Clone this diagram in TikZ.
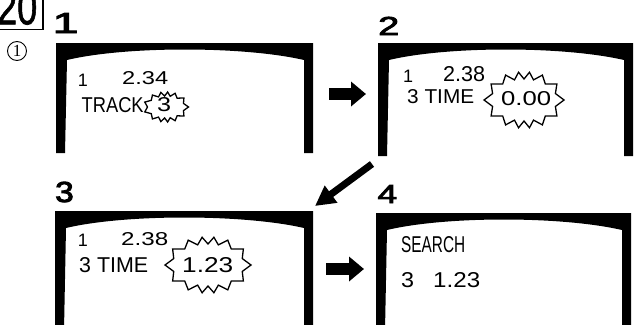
\documentclass[tikz,border=0pt]{standalone}
\usepackage{fontspec}
\setmainfont{Liberation Sans}
\newfontfamily\serifnum{Liberation Serif}
\newfontfamily\heavy[FakeBold=3]{Liberation Sans}
\newfontfamily\medheavy[FakeBold=1.5]{Liberation Sans}
\usetikzlibrary{arrows.meta}

% text squeezed to an exact ink size: width, height, text
\newcommand\fitbox[3]{\resizebox{#1pt}{#2pt}{#3}}

% black CRT bezel, open at the bottom: left, right, top, bottom
\newcommand\crtframe[4]{%
  \fill[framefill] (#1,#4) -- (#1,#3) -- (#2,#3) -- (#2,#4) -- ({#2-9},#4)
    -- ({#2-9},{#3+17})
    .. controls ({#2-70},{#3+3}) and ({#1+70},{#3+3}) .. ({#1+11},{#3+17})
    -- ({#1+9},#4) -- cycle;}

% jagged flash outline: cx, cy, rx, ry, vertices (even), depth
\newcommand\flash[6]{%
  \draw[burstline] plot[samples at={0,...,#5}]
    ({#1+(#3-#6*mod(\x,2))*cos(\x/#5*360+11.5*sin(\x/#5*720))},
     {#2+(#4-#6*mod(\x,2))*sin(\x/#5*360+11.5*sin(\x/#5*720))}) -- cycle;}

\begin{document}
\begin{tikzpicture}[x=1pt,y=-1pt,
  framefill/.style={fill=black},
  burstline/.style={line width=1.3pt,line join=miter,miter limit=20},
  lcd/.style={inner sep=0pt,anchor=south west},
  onechar/.style={inner sep=0pt,anchor=base,font=\fontsize{18}{18}\selectfont},
  steplabel/.style={inner sep=0pt,anchor=base west},
  blockarrow/.style={line width=12pt,-{Triangle[length=15pt,width=24pt]}},
  diagarrow/.style={line width=7pt,-{Triangle[length=20pt,width=20pt]}}]
\useasboundingbox (0,0) rectangle (636,324);
\clip (0,0) rectangle (636,324);
\fill[white] (0,0) rectangle (636,324);

% figure number box in the corner
\draw[line width=1.5pt] (-2,29.5) -- (43,29.5) -- (43,-2);
\node[lcd] (fignum) at (-3,25) {\fitbox{40}{34}{\medheavy 20}};
\node[circle,draw,line width=0.9pt,minimum size=19pt,inner sep=0pt,
      font=\serifnum\fontsize{17}{17}\selectfont] (circ) at (17,51) {1};

% step labels
\node[steplabel,font=\heavy\fontsize{29}{29}\selectfont] (l1) at (52.5,33)
  {\scalebox{1.6}[1]{1}};
\node[steplabel,font=\heavy\fontsize{26}{26}\selectfont] (l2) at (378,35)
  {\scalebox{1.45}[1]{2}};
\node[steplabel,font=\heavy\fontsize{29}{29}\selectfont] (l3) at (55,202)
  {\scalebox{1.15}[1]{3}};
\node[steplabel,font=\heavy\fontsize{26}{26}\selectfont] (l4) at (377.5,203)
  {\scalebox{1.35}[1]{4}};

% bezels
\crtframe{56}{313}{43}{153}
\crtframe{378}{633}{43}{156}
\crtframe{55}{313}{211}{330}
\crtframe{376}{631}{213}{330}

% screen 1
\node[onechar] (s1a) at (83,86) {1};
\node[lcd] (s1b) at (122,85) {\fitbox{46}{13}{2.34}};
\node[lcd] (s1c) at (81.5,113) {\fitbox{62}{15}{TRACK}};
\flash{166}{107}{22.5}{15}{26}{4}
\node[lcd] (s1d) at (157,112) {\fitbox{14}{14}{3}};

% screen 2
\node[onechar] (s2a) at (408,82) {1};
\node[lcd] (s2b) at (443,82) {\fitbox{42}{15}{2.38}};
\node[lcd] (s2c) at (407,104) {\fitbox{67}{14}{3 TIME}};
\flash{524}{100}{40}{28}{28}{7}
\node[lcd] (s2d) at (501,106) {\fitbox{50}{14}{0.00}};

% screen 3
\node[onechar] (s3a) at (83,246) {1};
\node[lcd] (s3b) at (121,246) {\fitbox{47}{13}{2.38}};
\node[lcd] (s3c) at (79,273) {\fitbox{69}{15}{3 TIME}};
\flash{208}{265}{43}{28}{28}{7}
\node[lcd] (s3d) at (182,273) {\fitbox{51}{15}{1.23}};

% screen 4
\node[lcd] (s4a) at (401,253) {\fitbox{64}{16}{SEARCH}};
\node[lcd] (s4b) at (401,288) {\fitbox{13}{15}{3}};
\node[lcd] (s4c) at (433,288) {\fitbox{47}{15}{1.23}};

% arrows between the steps
\coordinate (a12s) at (329,94);
\coordinate (a12e) at (366,94);
\coordinate (a23s) at (372,164);
\coordinate (a23e) at (315,206);
\coordinate (a34s) at (326,269);
\coordinate (a34e) at (364,269);
\draw[blockarrow] (a12s) -- (a12e);
\draw[diagarrow] (a23s) -- (a23e);
\draw[blockarrow] (a34s) -- (a34e);
\end{tikzpicture}
\end{document}
